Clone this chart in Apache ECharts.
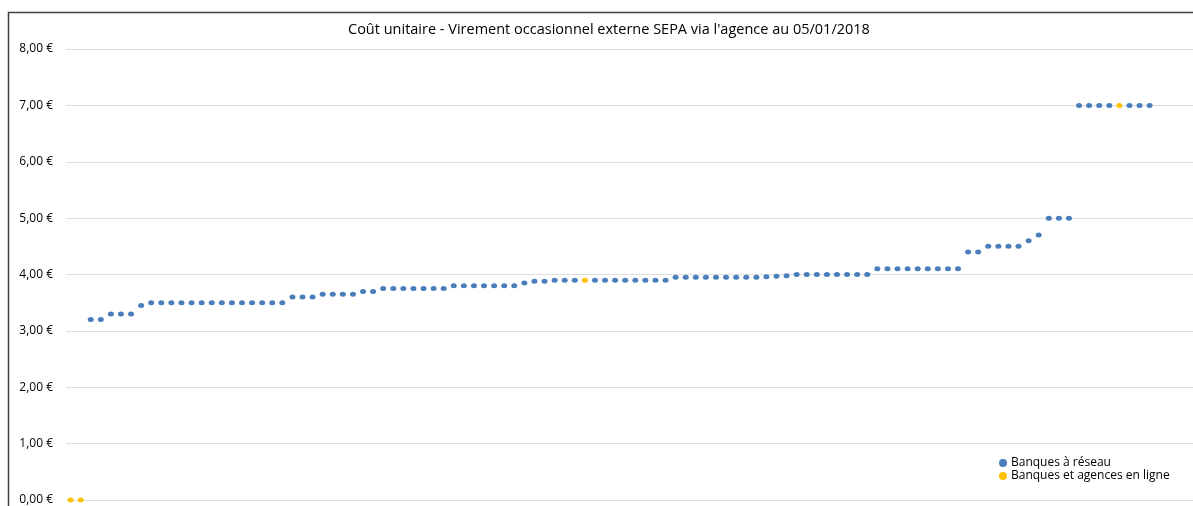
<!DOCTYPE html>
<html>
<head>
<meta charset="utf-8">
<script src="https://cdn.jsdelivr.net/npm/echarts@6/dist/echarts.min.js"></script>
<style>
html, body { margin: 0; padding: 0; background: #fff; }
#main { width: 1193px; height: 506px; }
</style>
</head>
<body>
<div id="main"></div>
<script>
// coût unitaire par établissement, trié croissant
var couts = [
  0, 0,
  3.20, 3.20,
  3.30, 3.30, 3.30,
  3.45,
  3.50, 3.50, 3.50, 3.50, 3.50, 3.50, 3.50, 3.50, 3.50, 3.50, 3.50, 3.50, 3.50, 3.50,
  3.60, 3.60, 3.60,
  3.65, 3.65, 3.65, 3.65,
  3.70, 3.70,
  3.75, 3.75, 3.75, 3.75, 3.75, 3.75, 3.75,
  3.80, 3.80, 3.80, 3.80, 3.80, 3.80, 3.80,
  3.85,
  3.88, 3.88,
  3.90, 3.90, 3.90, 3.90,
  3.90, 3.90, 3.90, 3.90, 3.90, 3.90, 3.90, 3.90,
  3.95, 3.95, 3.95, 3.95, 3.95, 3.95, 3.95, 3.95, 3.95,
  3.96, 3.97, 3.98,
  4.00, 4.00, 4.00, 4.00, 4.00, 4.00, 4.00, 4.00,
  4.10, 4.10, 4.10, 4.10, 4.10, 4.10, 4.10, 4.10, 4.10,
  4.40, 4.40,
  4.50, 4.50, 4.50, 4.50,
  4.60, 4.70,
  5.00, 5.00, 5.00,
  7.00, 7.00, 7.00, 7.00, 7.00, 7.00, 7.00, 7.00
];
// positions des banques en ligne dans la liste
var enLigne = [0, 1, 51, 104];
var seriesNames = ['Banques à réseau', 'Banques et agences en ligne'];
var titre = "Coût unitaire - Virement occasionnel externe SEPA via l'agence au 05/01/2018";

var reseauData = [];
var enLigneData = [];
couts.forEach(function (v, i) {
  if (enLigne.indexOf(i) >= 0) enLigneData.push([i, v]);
  else reseauData.push([i, v]);
});

var chart = echarts.init(document.getElementById('main'));
chart.setOption({
  animation: false,
  backgroundColor: '#fff',
  textStyle: { fontFamily: 'Open Sans' },
  title: {
    text: titre,
    left: 343,
    top: 17,
    textStyle: { fontSize: 14.5, fontWeight: 'normal', color: '#000', fontFamily: 'Open Sans' }
  },
  grid: {
    left: 66,
    right: 0,
    top: 49,
    bottom: 6,
    containLabel: false
  },
  legend: {
    orient: 'vertical',
    left: 994,
    top: 452,
    itemWidth: 8,
    itemHeight: 8,
    itemGap: 1,
    icon: 'circle',
    textStyle: { fontSize: 12, color: '#000', fontFamily: 'Open Sans', padding: [0, 0, 0, -1] },
    data: seriesNames
  },
  xAxis: {
    type: 'value',
    min: -0.45,
    max: 111.3,
    show: false
  },
  yAxis: {
    type: 'value',
    min: 0,
    max: 8,
    interval: 1,
    axisLine: { show: false },
    axisTick: { show: false },
    axisLabel: {
      fontSize: 12,
      color: '#000',
      margin: 13,
      formatter: function (v) { return v.toFixed(2).replace('.', ',') + ' €'; }
    },
    splitLine: { lineStyle: { color: '#dedede', width: 1 } }
  },
  series: [
    {
      name: seriesNames[0],
      type: 'scatter',
      symbol: 'circle',
      symbolSize: [6, 5],
      itemStyle: { color: '#4a7ebb', opacity: 1 },
      data: reseauData
    },
    {
      name: seriesNames[1],
      type: 'scatter',
      symbol: 'circle',
      symbolSize: [6, 5],
      itemStyle: { color: '#ffc000', opacity: 1 },
      data: enLigneData
    }
  ],
  graphic: [
    {
      type: 'polyline',
      shape: { points: [[8.5, 520], [8.5, 12.5], [1200, 12.5]] },
      style: { stroke: '#404040', lineWidth: 1.5, fill: null }
    }
  ]
});
</script>
</body>
</html>
